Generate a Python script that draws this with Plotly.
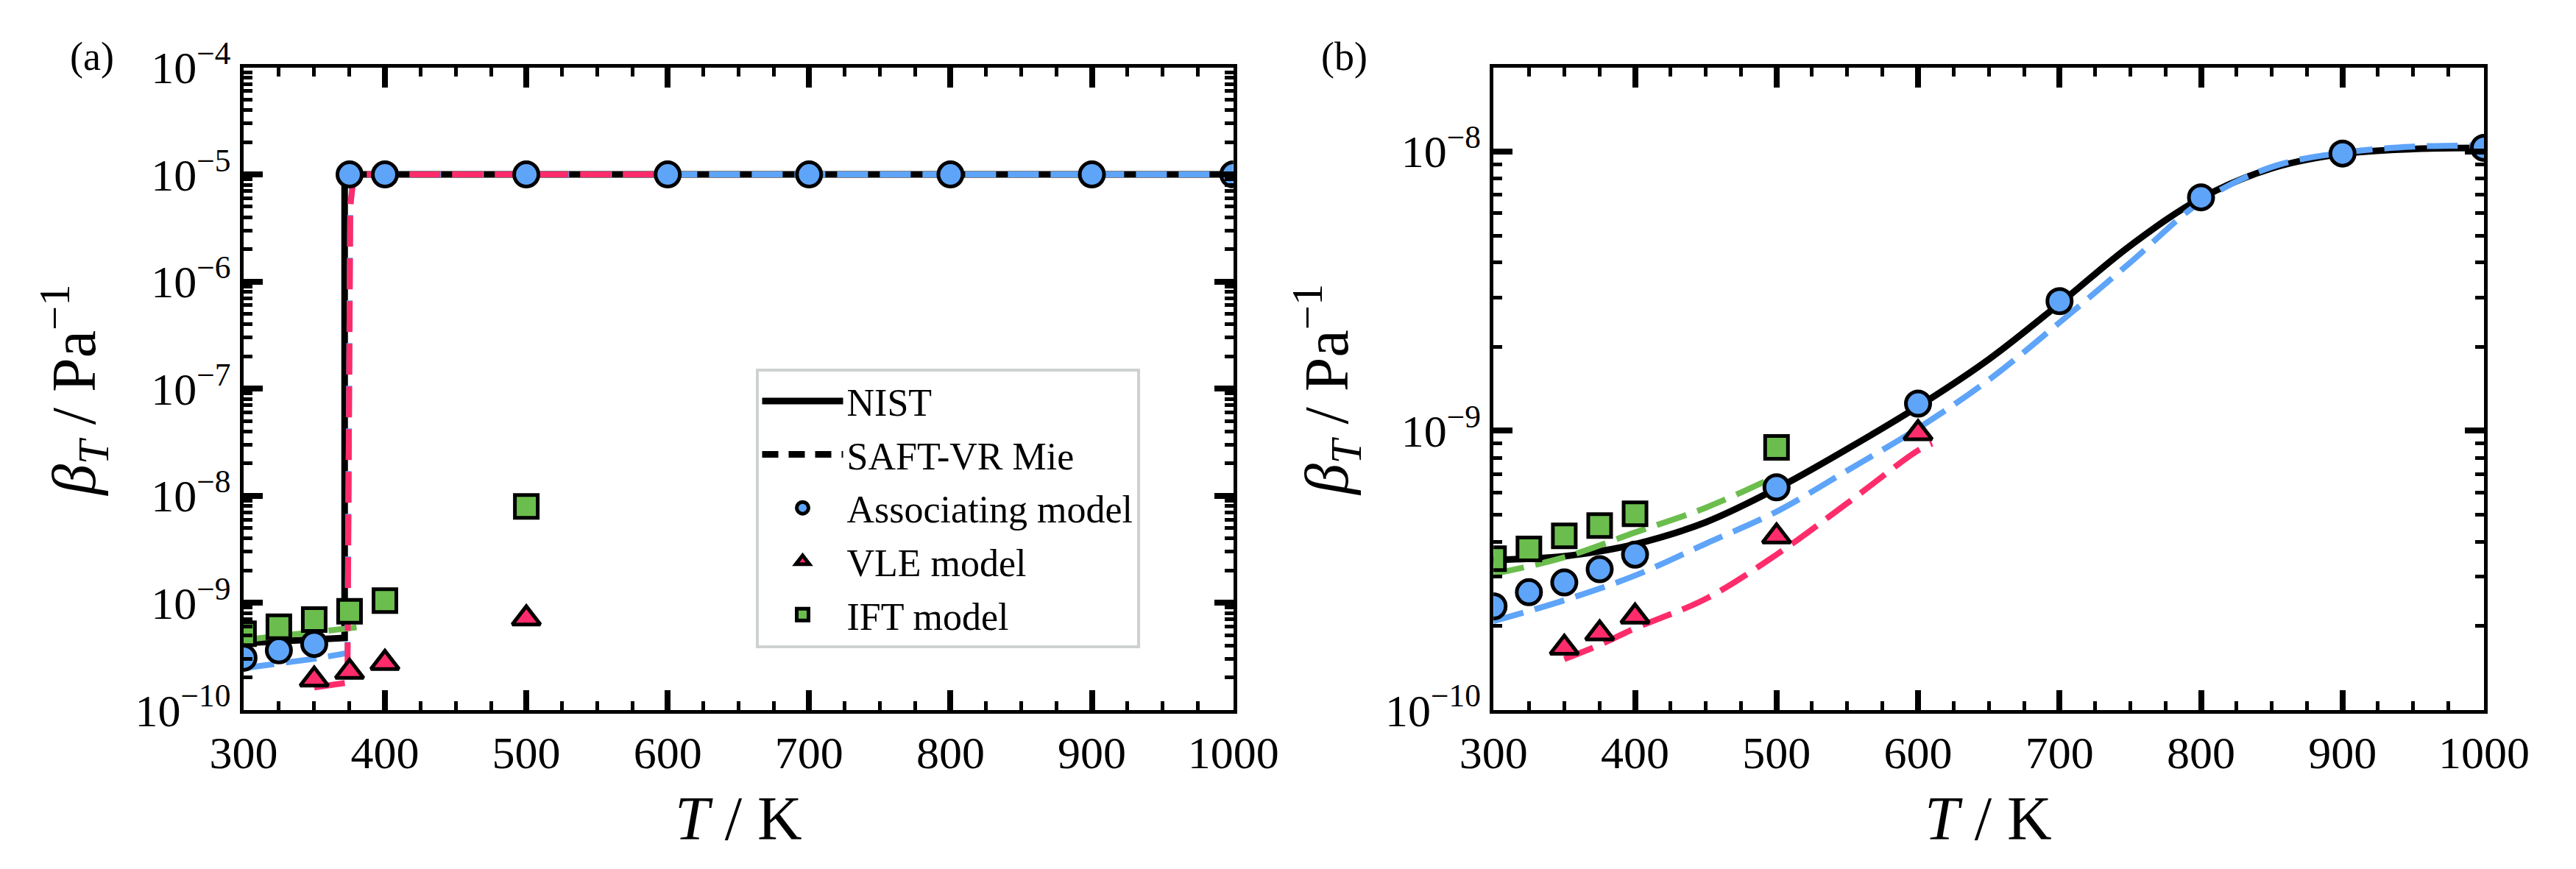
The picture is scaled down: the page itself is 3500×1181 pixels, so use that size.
import plotly.graph_objects as go

W, H = 3500, 1181

# ---------------- data ----------------
# Panel (a)
a_nist_T = [300, 325, 350, 371.5, 371.5, 1000]
a_nist_b = [4.2e-10, 4.35e-10, 4.5e-10, 4.7e-10, 1e-5, 1e-5]
a_assoc_line_T = [300, 325, 350, 368, 373.5, 375.5, 378, 1000]
a_assoc_line_b = [2.46e-10, 2.7e-10, 3.0e-10, 3.3e-10, 3.4e-10, 5e-6, 1e-5, 1e-5]
a_vle_line_T = [350, 365, 373.5, 375.5, 378, 600]
a_vle_line_b = [1.62e-10, 1.72e-10, 1.8e-10, 5e-6, 1e-5, 1e-5]
a_ift_line_T = [300, 325, 350, 380]
a_ift_line_b = [4.5e-10, 4.85e-10, 5.25e-10, 5.9e-10]

a_assoc_T = [300, 325, 350, 375, 400, 500, 600, 700, 800, 900, 1000]
a_assoc_b = [3.07e-10, 3.6e-10, 4.13e-10, 1e-5, 1e-5, 1e-5, 1e-5, 1e-5, 1e-5, 1e-5, 1e-5]
a_vle_T = [350, 375, 400, 500]
a_vle_b = [1.92e-10, 2.27e-10, 2.75e-10, 7.16e-10]
a_ift_T = [300, 325, 350, 375, 400, 500]
a_ift_b = [5.15e-10, 5.98e-10, 6.97e-10, 8.35e-10, 1.05e-9, 7.96e-9]

# Panel (b)
b_nist_T = [300, 325, 350, 375, 400, 450, 500, 550, 600, 650, 700, 750, 800, 850, 900, 950, 1000]
b_nist_b = [3.44e-10, 3.48e-10, 3.55e-10, 3.7e-10, 3.92e-10, 4.7e-10, 6.2e-10, 8.6e-10,
            1.22e-9, 1.8e-9, 2.85e-9, 4.6e-9, 6.8e-9, 8.7e-9, 9.8e-9, 1.02e-8, 1.03e-8]
b_assoc_line_T = [300, 350, 400, 450, 500, 550, 600, 650, 700, 750, 800, 850, 900, 950, 1000]
b_assoc_line_b = [2.08e-10, 2.47e-10, 3.03e-10, 3.94e-10, 5.13e-10, 7.2e-10, 1.02e-9, 1.52e-9,
                  2.44e-9, 4.0e-9, 6.6e-9, 8.8e-9, 9.9e-9, 1.04e-8, 1.05e-8]
b_vle_line_T = [350, 375, 400, 450, 500, 550, 600, 610]
b_vle_line_b = [1.52e-10, 1.71e-10, 1.96e-10, 2.5e-10, 3.6e-10, 5.5e-10, 8.5e-10, 9.0e-10]
b_ift_line_T = [300, 350, 400, 450, 495]
b_ift_line_b = [3.07e-10, 3.52e-10, 4.32e-10, 5.3e-10, 6.7e-10]

b_assoc_T = [300, 325, 350, 375, 400, 500, 600, 700, 800, 900, 1000]
b_assoc_b = [2.35e-10, 2.64e-10, 2.86e-10, 3.19e-10, 3.6e-10, 6.27e-10, 1.25e-9, 2.91e-9,
             6.85e-9, 9.83e-9, 1.03e-8]
b_vle_T = [350, 375, 400, 500, 600]
b_vle_b = [1.67e-10, 1.88e-10, 2.16e-10, 4.18e-10, 9.8e-10]
b_ift_T = [300, 325, 350, 375, 400, 500]
b_ift_b = [3.48e-10, 3.77e-10, 4.2e-10, 4.57e-10, 5.04e-10, 8.71e-10]

x_ticks = [300, 400, 500, 600, 700, 800, 900, 1000]
ya_ticks = [1e-10, 1e-9, 1e-8, 1e-7, 1e-6, 1e-5, 1e-4]
ya_text = ["10<sup>−10</sup>", "10<sup>−9</sup>", "10<sup>−8</sup>", "10<sup>−7</sup>",
           "10<sup>−6</sup>", "10<sup>−5</sup>", "10<sup>−4</sup>"]
yb_ticks = [1e-10, 1e-9, 1e-8]
yb_text = ["10<sup>−10</sup>", "10<sup>−9</sup>", "10<sup>−8</sup>"]

legend_names = ["NIST", "SAFT-VR Mie", "Associating model", "VLE model", "IFT model"]

# ---------------- style ----------------
FONT = "Liberation Serif"
BLUE = "#5EA4F8"
RED = "#FE2C6B"
GREEN = "#6BBE4D"
DASH = "42px,16px"
LW_SOLID = 9
LW_DASH = 8

fig = go.Figure()


def add_lines(xa, ya, nist, assoc, vle, ift, interp):
    fig.add_trace(go.Scatter(x=nist[0], y=nist[1], mode="lines", xaxis=xa, yaxis=ya,
                             line=dict(color="black", width=LW_SOLID, shape=interp),
                             showlegend=False, hoverinfo="skip"))
    for (tx, ty), col in ((ift, GREEN), (assoc, BLUE), (vle, RED)):
        fig.add_trace(go.Scatter(x=tx, y=ty, mode="lines", xaxis=xa, yaxis=ya,
                                 line=dict(color=col, width=LW_DASH, dash=DASH, shape=interp),
                                 showlegend=False, hoverinfo="skip"))


def add_markers(xa, ya, assoc, vle, ift, show):
    fig.add_trace(go.Scatter(x=assoc[0], y=assoc[1], mode="markers", xaxis=xa, yaxis=ya,
                             name=legend_names[2], showlegend=show, legendrank=3,
                             legendgroup="g3",
                             marker=dict(symbol="circle", size=33, color=BLUE,
                                         line=dict(color="black", width=5))))
    fig.add_trace(go.Scatter(x=vle[0], y=vle[1], mode="markers", xaxis=xa, yaxis=ya,
                             name=legend_names[3], showlegend=show, legendrank=4,
                             legendgroup="g4",
                             marker=dict(symbol="triangle-up", size=33, color=RED,
                                         line=dict(color="black", width=5))))
    fig.add_trace(go.Scatter(x=ift[0], y=ift[1], mode="markers", xaxis=xa, yaxis=ya,
                             name=legend_names[4], showlegend=show, legendrank=5,
                             legendgroup="g5",
                             marker=dict(symbol="square", size=31, color=GREEN,
                                         line=dict(color="black", width=5))))


add_lines("x", "y", (a_nist_T, a_nist_b), (a_assoc_line_T, a_assoc_line_b),
          (a_vle_line_T, a_vle_line_b), (a_ift_line_T, a_ift_line_b), "linear")
add_lines("x2", "y2", (b_nist_T, b_nist_b), (b_assoc_line_T, b_assoc_line_b),
          (b_vle_line_T, b_vle_line_b), (b_ift_line_T, b_ift_line_b), "spline")

# legend-only line entries
fig.add_trace(go.Scatter(x=[None], y=[None], mode="lines", name=legend_names[0], legendrank=1,
                         legendgroup="g1", line=dict(color="black", width=LW_SOLID)))
fig.add_trace(go.Scatter(x=[None], y=[None], mode="lines", name=legend_names[1], legendrank=2,
                         legendgroup="g2",
                         line=dict(color="black", width=LW_SOLID, dash="22px,14px")))

add_markers("x", "y", (a_assoc_T, a_assoc_b), (a_vle_T, a_vle_b), (a_ift_T, a_ift_b), True)
add_markers("x2", "y2", (b_assoc_T, b_assoc_b), (b_vle_T, b_vle_b), (b_ift_T, b_ift_b), False)

# ---------------- axes ----------------
tickfont = dict(family=FONT, size=62, color="black")


def xcfg(domain, anchor):
    return dict(domain=domain, anchor=anchor, range=[300, 1000], tickvals=x_ticks,
                showline=True, linecolor="black", linewidth=5, mirror="ticks",
                ticks="inside", ticklen=27, tickwidth=8, tickcolor="black",
                minor=dict(dtick=25, ticks="inside", ticklen=12, tickwidth=5,
                           tickcolor="black", showgrid=False),
                showgrid=False, zeroline=False, tickfont=tickfont)


def minor_log(lo, hi):
    vals = []
    for e in range(lo, hi):
        for k in range(2, 10):
            vals.append(k * 10.0 ** e)
    return vals


def ycfg(domain, anchor, rng, tv, tt, lo, hi):
    return dict(domain=domain, anchor=anchor, type="log", range=rng, tickvals=tv, ticktext=tt,
                showline=True, linecolor="black", linewidth=5, mirror="ticks",
                ticks="inside", ticklen=26, tickwidth=8, tickcolor="black",
                minor=dict(tickvals=minor_log(lo, hi), ticks="inside", ticklen=12, tickwidth=5,
                           tickcolor="black", showgrid=False),
                showgrid=False, zeroline=False, tickfont=tickfont)


ydom = [1 - 987 / H, 1 - 52 / H]
fig.update_layout(
    width=W, height=H,
    margin=dict(l=0, r=0, t=0, b=0),
    paper_bgcolor="white", plot_bgcolor="white",
    font=dict(family=FONT, color="black"),
    xaxis=xcfg([293 / W, 1681 / W], "y"),
    xaxis2=xcfg([2046 / W, 3435 / W], "y2"),
    yaxis=ycfg(ydom, "x", [-10, -4], ya_ticks, ya_text, -10, -4),
    yaxis2=ycfg(ydom, "x2", [-10, -7.699], yb_ticks, yb_text, -10, -7),
    legend=dict(x=1011 / W, y=1 - 490 / H, xanchor="left", yanchor="top",
                bgcolor="white", bordercolor="#CDD2D1", borderwidth=4,
                font=dict(family=FONT, size=52, color="black"),
                itemwidth=110, tracegroupgap=2),
    showlegend=True,
)

# ---------------- titles / panel labels ----------------
ytitle = "<i>β<sub>T</sub></i> / Pa<sup>−1</sup>"
xtitle = "<i>T</i> / K"
ann = []
for xc in (987, 2740):
    ann.append(dict(text=xtitle, x=xc / W, y=1 - 1145 / H, xref="paper", yref="paper",
                    xanchor="center", yanchor="middle", showarrow=False,
                    font=dict(family=FONT, size=84, color="black")))
for xc in (55, 1812):
    ann.append(dict(text=ytitle, x=xc / W, y=1 - 522 / H, xref="paper", yref="paper",
                    xanchor="center", yanchor="middle", showarrow=False, textangle=-90,
                    font=dict(family=FONT, size=84, color="black")))
for txt, xc, yc in (("(a)", 80, 36), ("(b)", 1837, 36)):
    ann.append(dict(text=txt, x=xc / W, y=1 - yc / H, xref="paper", yref="paper",
                    xanchor="center", yanchor="middle", showarrow=False,
                    font=dict(family=FONT, size=54, color="black")))
fig.update_layout(annotations=ann)

fig.write_html("out.html")
